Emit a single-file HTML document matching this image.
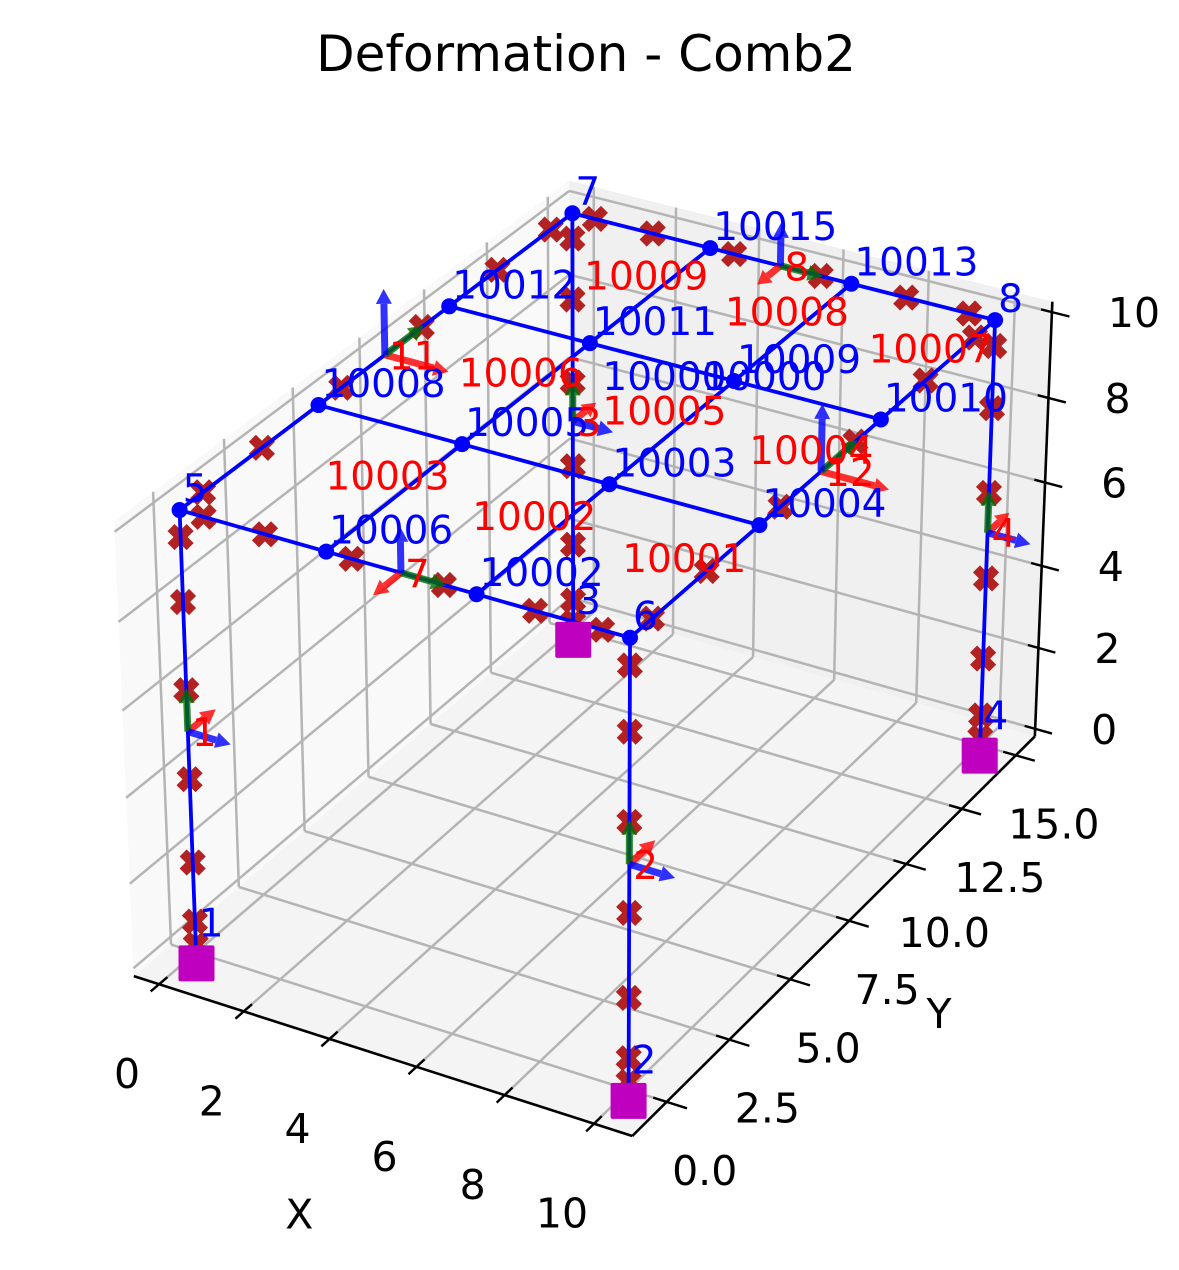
<!DOCTYPE html>
<html><head><meta charset="utf-8"><style>
html,body{margin:0;padding:0;background:#fff;}
svg{display:block;font-family:"DejaVu Sans","Liberation Sans",sans-serif;}
</style></head>
<body>
<svg id="chart" width="1179" height="1270" viewBox="0 0 1179 1270" xmlns="http://www.w3.org/2000/svg">
<rect width="1179" height="1270" fill="#fff"/>
<text x="586" y="71" font-size="50" text-anchor="middle">Deformation - Comb2</text>
<g id="panes"></g>
<g id="grid"></g>
<g id="axes"></g>
<g id="markers"></g>
<g id="members"></g>
<g id="dots"></g>
<g id="supports"></g>
<g id="triads"></g>
<g id="nlabels"></g>
<g id="elabels"></g>
</svg>
<script>
// ---- data ----
const nodeId = [1,2,3,4,5,6,7,8,10006,10002,10008,10005,10003,10004,10012,10011,10009,10010,10015,10013];
const nodeX  = [0,10,0,10,0,10,0,10,3.33,6.67,0,3.33,6.67,10,0,3.33,6.67,10,3.33,6.67];
const nodeY  = [0,0,15,15,0,0,15,15,0,0,5,5,5,5,10,10,10,10,15,15];
const nodeZ  = [0,0,0,0,10,10,10,10,10,10,10,10,10,10,10,10,10,10,10,10];
const dispX  = [0,0,0,0,0,0,0,0,0,0,0,0,0,0,0,0,0,0,0,0];
const dispY  = [0,0,0,0,0,0,0,0,0,0,0,0,0,0,0,0,0,0,0,0];
const dispZ  = [0,0,0,0,0,0,0,0,0,0,0,0,0,0,0,0,0,0,0,0];
const supportNodes = [1,2,3,4];
const supportDrop = 0.45;
const memberI = [1,2,3,4, 5,10006,10002, 6,10004,10010, 7,10015,10013, 5,10008,10012, 10008,10005,10003, 10012,10011,10009, 10006,10005,10011, 10002,10003,10009];
const memberJ = [5,6,7,8, 10006,10002,6, 10004,10010,8, 10015,10013,8, 10008,10012,7, 10005,10003,10004, 10011,10009,10010, 10005,10011,10015, 10003,10009,10013];
const markerMemberI = [1,2,3,4,5,6,7,5];
const markerMemberJ = [5,6,7,8,6,8,8,7];
const markerT = [0.055,0.195,0.39,0.595,0.795,0.94];
const columnBaseMarker = [1,2,3,4];
const elemLabel = ["1","2","3","4","7","8","11","12"];
const elemI = [1,2,3,4,5,7,5,6];
const elemJ = [5,6,7,8,6,8,7,8];
const shellId = ["10003","10002","10001","10006","10005","10004","10009","10008","10007"];
const shellX = [1.67,5,8.33,1.67,5,8.33,1.67,5,8.33];
const shellY = [2.5,2.5,2.5,7.5,7.5,7.5,12.5,12.5,12.5];
const extraLabelText = ["10000","10000"];
const xTicks = [0,2,4,6,8,10];
const yTicks = [0,2.5,5,7.5,10,12.5,15];
const yTickLabels = ["0.0","2.5","5.0","7.5","10.0","12.5","15.0"];
const zTicks = [0,2,4,6,8,10];
const xlim = [-0.6,10.85], ylim = [-1.34,15.9], zlim = [-0.19,10.24];
// camera calibration (world -> screen)
const calibWorld = [[0,0,0],[10,0,0],[0,15,0],[10,15,0],[0,0,10],[10,0,10],[0,15,10],[10,15,10]];
const calibScreen = [[196,945],[629,1082],[573,622],[980,737],[180,510],[629,637],[572,213],[996,321]];

// ---- projection ----
function solve(A,b){const n=b.length;for(let i=0;i<n;i++){let p=i;for(let r=i+1;r<n;r++)if(Math.abs(A[r][i])>Math.abs(A[p][i]))p=r;[A[i],A[p]]=[A[p],A[i]];[b[i],b[p]]=[b[p],b[i]];for(let r=i+1;r<n;r++){const f=A[r][i]/A[i][i];for(let c=i;c<n;c++)A[r][c]-=f*A[i][c];b[r]-=f*b[i];}}const x=new Array(n).fill(0);for(let i=n-1;i>=0;i--){let s=b[i];for(let c=i+1;c<n;c++)s-=A[i][c]*x[c];x[i]=s/A[i][i];}return x;}
const P=(function(){const rows=[],rhs=[];calibWorld.forEach((w,k)=>{const [X,Y,Z]=w,[u,v]=calibScreen[k];rows.push([X,Y,Z,1,0,0,0,0,-u*X,-u*Y,-u*Z]);rhs.push(u);rows.push([0,0,0,0,X,Y,Z,1,-v*X,-v*Y,-v*Z]);rhs.push(v);});const N=[],r=[];for(let i=0;i<11;i++){N.push(new Array(11).fill(0));r.push(0);for(let k=0;k<rows.length;k++){r[i]+=rows[k][i]*rhs[k];for(let j=0;j<11;j++)N[i][j]+=rows[k][i]*rows[k][j];}}return solve(N,r);})();
function proj(x,y,z){const w=P[8]*x+P[9]*y+P[10]*z+1;return [(P[0]*x+P[1]*y+P[2]*z+P[3])/w,(P[4]*x+P[5]*y+P[6]*z+P[7])/w];}
const NS="http://www.w3.org/2000/svg";
function mk(tag,parent,attrs){const e=document.createElementNS(NS,tag);for(const k in attrs)e.setAttribute(k,attrs[k]);document.getElementById(parent).appendChild(e);return e;}
function poly(pts){return pts.map(p=>p[0].toFixed(1)+","+p[1].toFixed(1)).join(" ");}
function nodePos(id){const i=nodeId.indexOf(id);return [nodeX[i]+dispX[i],nodeY[i]+dispY[i],nodeZ[i]+dispZ[i]];}
function lerp3(a,b,t){return [a[0]+(b[0]-a[0])*t,a[1]+(b[1]-a[1])*t,a[2]+(b[2]-a[2])*t];}

// ---- panes ----
const [x0,x1]=xlim,[y0,y1]=ylim,[z0,z1]=zlim;
let e;
e=mk("polygon","panes",{points:poly([proj(x0,y0,z0),proj(x0,y1,z0),proj(x0,y1,z1),proj(x0,y0,z1)]),fill:"#f9f9f9"});


e=mk("polygon","panes",{points:poly([proj(x0,y1,z0),proj(x1,y1,z0),proj(x1,y1,z1),proj(x0,y1,z1)]),fill:"#f0f0f0"});


e=mk("polygon","panes",{points:poly([proj(x0,y0,z0),proj(x1,y0,z0),proj(x1,y1,z0),proj(x0,y1,z0)]),fill:"#f4f4f4"});



// ---- grid ----
function gl(a,b){const l=mk("line","grid",{x1:a[0],y1:a[1],x2:b[0],y2:b[1],stroke:"#b4b4b4","stroke-width":2.5});

}
yTicks.forEach(y=>{gl(proj(x0,y,z0),proj(x0,y,z1));gl(proj(x0,y,z0),proj(x1,y,z0));});
zTicks.forEach(z=>{gl(proj(x0,y0,z),proj(x0,y1,z));gl(proj(x0,y1,z),proj(x1,y1,z));});
xTicks.forEach(x=>{gl(proj(x,y1,z0),proj(x,y1,z1));gl(proj(x,y0,z0),proj(x,y1,z0));});

// ---- axes ----
function al(a,b,name,w){const l=mk("line","axes",{x1:a[0],y1:a[1],x2:b[0],y2:b[1],stroke:"#000","stroke-width":w});

}
function tl(pos,txt,dx,dy,name,anchor){const t=mk("text","axes",{x:pos[0]+dx,y:pos[1]+dy,"font-size":41,"text-anchor":anchor||"middle","dominant-baseline":"central"});t.textContent=txt;

}
al(proj(x0,y0,z0),proj(x1,y0,z0),"x-axis-line",2.6);
al(proj(x1,y0,z0),proj(x1,y1,z0),"y-axis-line",2.6);
al(proj(x1,y1,z0),proj(x1,y1,z1),"z-axis-line",2.6);
xTicks.forEach(x=>{al(proj(x,y0-0.3,z0),proj(x,y0+0.3,z0),"x-tick",2.4);tl(proj(x,y0,z0),String(x),-32,90,"x-tick-label");});
yTicks.forEach((y,i)=>{al(proj(x1-0.3,y,z0),proj(x1+0.45,y,z0),"y-tick",2.4);tl(proj(x1,y,z0),yTickLabels[i],38,69,"y-tick-label");});
zTicks.forEach(z=>{al(proj(x1-0.25,y1,z),proj(x1+0.4,y1,z),"z-tick",2.4);tl(proj(x1,y1,z),String(z),56,1,"z-tick-label","start");});
tl(proj((x0+x1)/2,y0,z0),"X",-79,160,"x-axis-title");
tl(proj(x1,(y0+y1)/2,z0),"Y",95,88,"y-axis-title");

// ---- markers ----
function xMarker(p){const g=mk("g","markers",{transform:`translate(${p[0].toFixed(1)},${p[1].toFixed(1)})`,fill:"#b22222"});


const r1=document.createElementNS(NS,"rect");r1.setAttribute("x",-13.5);r1.setAttribute("y",-5);r1.setAttribute("width",27);r1.setAttribute("height",10);r1.setAttribute("transform","rotate(45)");g.appendChild(r1);
const r2=document.createElementNS(NS,"rect");r2.setAttribute("x",-13.5);r2.setAttribute("y",-5);r2.setAttribute("width",27);r2.setAttribute("height",10);r2.setAttribute("transform","rotate(-45)");g.appendChild(r2);}
markerMemberI.forEach((a,k)=>{const A=nodePos(a),B=nodePos(markerMemberJ[k]);markerT.forEach(t=>{const q=lerp3(A,B,t);xMarker(proj(q[0],q[1],q[2]));});});
columnBaseMarker.forEach(n=>{const A=nodePos(n);xMarker(proj(A[0],A[1],A[2]));});

// ---- members ----
memberI.forEach((a,k)=>{const A=nodePos(a),B=nodePos(memberJ[k]);const p=proj(...A),q=proj(...B);
const l=mk("line","members",{x1:p[0],y1:p[1],x2:q[0],y2:q[1],stroke:"#0000ff","stroke-width":3.8,"stroke-linecap":"round"});

});

// ---- dots ----
nodeId.forEach((id,i)=>{if(supportNodes.includes(id))return;const p=proj(...nodePos(id));
const c=mk("circle","dots",{cx:p[0],cy:p[1],r:8,fill:"#0000ff"});

});

// ---- supports ----
supportNodes.forEach(id=>{const i=nodeId.indexOf(id);const p=proj(nodeX[i],nodeY[i],nodeZ[i]-supportDrop);
const r=mk("rect","supports",{x:p[0]-18,y:p[1]-18,width:36,height:36,rx:2,fill:"#bf00bf"});

});

// ---- triads ----
function arrow(o,d,color,name){const a=proj(...o),b=proj(o[0]+d[0],o[1]+d[1],o[2]+d[2]);const dx=b[0]-a[0],dy=b[1]-a[1],L=Math.hypot(dx,dy)||1,ux=dx/L,uy=dy/L;const hl=Math.min(15,L*0.45),hw=8;const bx=b[0]-ux*hl,by=b[1]-uy*hl;
const g=mk("g","triads",{opacity:0.8});


const l=document.createElementNS(NS,"line");l.setAttribute("x1",a[0]);l.setAttribute("y1",a[1]);l.setAttribute("x2",bx);l.setAttribute("y2",by);l.setAttribute("stroke",color);l.setAttribute("stroke-width",7);g.appendChild(l);
const h=document.createElementNS(NS,"polygon");h.setAttribute("points",poly([b,[bx-uy*hw,by+ux*hw],[bx+uy*hw,by-ux*hw]]));h.setAttribute("fill",color);g.appendChild(h);}
elemI.forEach((a,k)=>{const A=nodePos(a),B=nodePos(elemJ[k]);const o=lerp3(A,B,0.5);const v=[B[0]-A[0],B[1]-A[1],B[2]-A[2]];const L=Math.hypot(...v);const g=v.map(c=>c/L);const isCol=Math.abs(g[2])>0.9;const bl=isCol?[1,0,0]:[0,0,1];const rd=[g[1]*bl[2]-g[2]*bl[1],g[2]*bl[0]-g[0]*bl[2],g[0]*bl[1]-g[1]*bl[0]];const s=L*0.1;
arrow(o,rd.map(c=>c*s),"#ff0000","local-x-arrow");arrow(o,g.map(c=>c*s),"#007000","local-y-arrow");arrow(o,bl.map(c=>c*s),"#0000ff","local-z-arrow");
const p=proj(...o);const t=mk("text","elabels",{x:p[0]+4,y:p[1]+2,"font-size":39,fill:"#ff0000","dominant-baseline":"central"});t.textContent=elemLabel[k];

});

// ---- node labels ----
nodeId.forEach((id,i)=>{const p=proj(...nodePos(id));const t=mk("text","nlabels",{x:p[0]+3,y:p[1]-8,"font-size":39,fill:"#0000ff"});t.textContent=String(id);

});
extraLabelText.forEach((s,k)=>{const p=proj(5,7.5,10);const t=mk("text","nlabels",{x:p[0]+3+k*100,y:p[1]-22,"font-size":39,fill:"#0000ff"});t.textContent=s;

});

// ---- shell labels ----
shellId.forEach((s,k)=>{const p=proj(shellX[k],shellY[k],10);const t=mk("text","elabels",{x:p[0]+3,y:p[1],"font-size":39,fill:"#ff0000","dominant-baseline":"central"});t.textContent=s;

});
</script>
</body></html>
